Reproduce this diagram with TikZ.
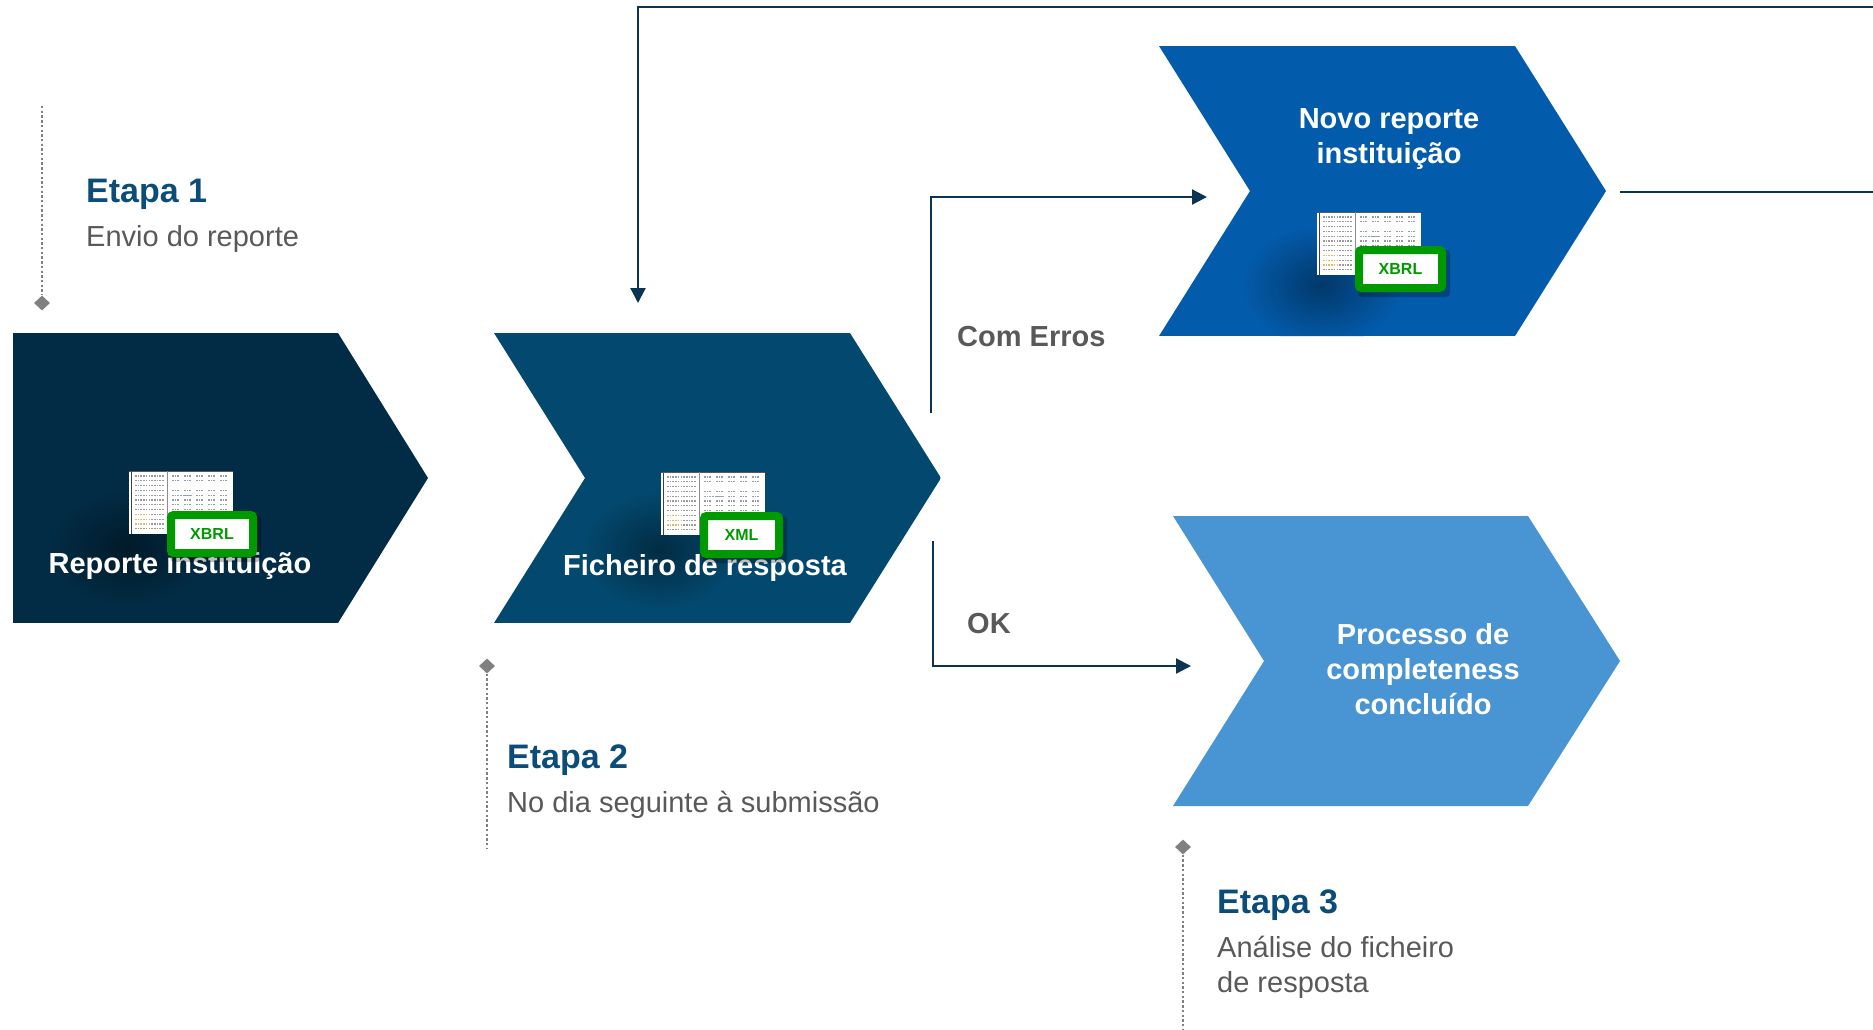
\documentclass[tikz,border=0pt]{standalone}
\usepackage{fontspec}
\setmainfont{Liberation Sans}
\usetikzlibrary{arrows.meta,shapes.geometric}
\definecolor{cA}{HTML}{022C45}
\definecolor{cB}{HTML}{03496F}
\definecolor{cC}{HTML}{035BAB}
\definecolor{cD}{HTML}{4994D2}
\definecolor{lineC}{HTML}{0B3452}
\definecolor{titleC}{HTML}{0B4D78}
\definecolor{grayT}{HTML}{595959}
\definecolor{dotC}{HTML}{808080}
\definecolor{grn}{HTML}{009900}
\definecolor{cellC}{HTML}{9A9A9A}
\definecolor{cellO}{HTML}{E3B86A}
\definecolor{cellB}{HTML}{8FA8C8}

\newcommand\mysheet[1]{%
 \begin{scope}[shift={(#1)}]
  \fill[white] (0,0) rectangle (104,63);
  \draw[black!75,line width=1.2pt] (2.5,0) -- (2.5,63);
  \draw[black!65,line width=1pt] (0,0.8) -- (104,0.8);
  \draw[black!45,line width=0.8pt] (38,0) -- (38,63);
  \foreach \rr in {0,...,11}{
    \draw[cellC,line width=1.3pt,dash pattern=on 1.6pt off 1.1pt] (6,{5+\rr*4.8}) -- (35,{5+\rr*4.8});
  }
  \foreach \rr in {8,9,10}{
    \draw[cellO,line width=1.3pt,dash pattern=on 1.6pt off 1.1pt] (6,{5+\rr*4.8}) -- (22,{5+\rr*4.8});
  }
  \foreach \rr in {0,1,3,4,5,6,7,8,9,10,11}{
    \foreach \px in {43,55,67,79,91}{
      \draw[cellC,line width=1.3pt,dash pattern=on 1.6pt off 1.1pt] (\px,{5+\rr*4.8}) -- ({\px+7},{5+\rr*4.8});
    }
  }
  \draw[cellB,line width=1.3pt,dash pattern=on 1.6pt off 1.1pt] (43,{5+4*4.8}) -- (62,{5+4*4.8});
 \end{scope}}

\begin{document}
\begin{tikzpicture}[x=1pt,y=-1pt,
  conn/.style={draw=lineC,line width=2.2pt},
  arr/.style={conn,-{Triangle[length=15pt,width=15pt]}},
  stagedots/.style={draw=dotC,line width=2.4pt,dash pattern=on 2.4pt off 2.3pt},
  diam/.style={diamond,fill=dotC,inner sep=0pt,minimum width=16pt,minimum height=15pt},
  stitle/.style={anchor=base west,inner sep=0pt,text=titleC,font=\fontsize{34}{40}\selectfont\bfseries},
  sdesc/.style={anchor=base west,inner sep=0pt,text=grayT,font=\fontsize{29}{35}\selectfont},
  ctext/.style={anchor=base,inner sep=0pt,text=white,font=\fontsize{29}{35}\selectfont\bfseries},
  blabel/.style={anchor=base west,inner sep=0pt,text=grayT,font=\fontsize{29}{35}\selectfont\bfseries},
  fbox/.style={draw=grn,fill=white,line width=8pt,rounded corners=2.5pt,text=grn,font=\fontsize{16}{18}\selectfont\bfseries,inner sep=0pt,minimum height=38pt},
  bshadow/.style={fill=black,opacity=0.25,rounded corners=4pt},
]
\useasboundingbox (0,0) rectangle (1873,1029);

% ---------- chevrons (with soft shadow behind the icon, clipped to the chevron) ----------
\begin{scope}
  \clip (13,333) -- (338,333) -- (428,478) -- (338,623) -- (13,623) -- cycle;
  \fill[cA] (13,333) rectangle (428,623);
  \shade[inner color=cA!60!black, outer color=cA] (128,548) ellipse (80 and 60);
\end{scope}
\begin{scope}
  \clip (494,333) -- (850,333) -- (941,478) -- (850,623) -- (494,623) -- (585,478) -- cycle;
  \fill[cB] (494,333) rectangle (941,623);
  \shade[inner color=cB!60!black, outer color=cB] (660,550) ellipse (80 and 60);
\end{scope}
\begin{scope}
  \clip (1159,46) -- (1515,46) -- (1606,191) -- (1515,336) -- (1159,336) -- (1250,191) -- cycle;
  \fill[cC] (1159,46) rectangle (1606,336);
  \shade[inner color=cC!62!black, outer color=cC] (1322,285) ellipse (80 and 60);
\end{scope}
\fill[cD] (1173,516) -- (1528,516) -- (1620,661) -- (1528,806) -- (1173,806) -- (1264,661) -- cycle;

% ---------- sheet thumbnails ----------
\mysheet{129,471}
\mysheet{661,472}
\mysheet{1317,212}

% ---------- chevron texts ----------
\node[ctext] (t1) at (180,573) {Reporte instituição};
\node[ctext] (t2) at (705,575) {Ficheiro de resposta};
\node[ctext] (t3a) at (1389,128) {Novo reporte};
\node[ctext] (t3b) at (1389,163) {instituição};
\node[ctext] (t4a) at (1423,644) {Processo de};
\node[ctext] (t4b) at (1423,679) {completeness};
\node[ctext] (t4c) at (1423,714) {concluído};

% ---------- file-type badges ----------
\fill[bshadow] (170,515) rectangle (261,562);
\node[fbox,minimum width=82pt] (b1) at (212,534) {XBRL};
\fill[bshadow] (703,516) rectangle (787,563);
\node[fbox,minimum width=75pt] (b2) at (741.5,535) {XML};
\fill[bshadow] (1358,250) rectangle (1450,297);
\node[fbox,minimum width=83pt] (b3) at (1400.5,269) {XBRL};

% ---------- connectors ----------
\coordinate (topR) at (1873,7);
\coordinate (fbIn) at (638,303);
\draw[arr] (topR) -| (fbIn);

\coordinate (ceS) at (931,413);
\coordinate (ceE) at (1207,197);
\draw[arr] (ceS) |- (ceE);

\coordinate (okS) at (933,541);
\coordinate (okE) at (1191,666);
\draw[arr] (okS) |- (okE);

\coordinate (nvOut) at (1620,192);
\coordinate (rEdge) at (1873,192);
\draw[conn] (nvOut) -- (rEdge);

\node[blabel] (lce) at (957,346) {Com Erros};
\node[blabel] (lok) at (967,633) {OK};

% ---------- stage markers ----------
\node[diam] (d1) at (42,303) {};
\coordinate (d1top) at (42,106);
\draw[stagedots] (d1top) -- (d1.north);
\node[diam] (d2) at (487,666) {};
\coordinate (d2bot) at (487,849);
\draw[stagedots] (d2.south) -- (d2bot);
\node[diam] (d3) at (1183,847) {};
\coordinate (d3bot) at (1183,1029);
\draw[stagedots] (d3.south) -- (d3bot);

\node[stitle] (e1) at (86,202) {Etapa 1};
\node[sdesc] (e1d) at (86,246) {Envio do reporte};
\node[stitle] (e2) at (507,768) {Etapa 2};
\node[sdesc] (e2d) at (507,812) {No dia seguinte à submissão};
\node[stitle] (e3) at (1217,913) {Etapa 3};
\node[sdesc] (e3d) at (1217,957) {Análise do ficheiro};
\node[sdesc] (e3e) at (1217,992) {de resposta};
\end{tikzpicture}
\end{document}
